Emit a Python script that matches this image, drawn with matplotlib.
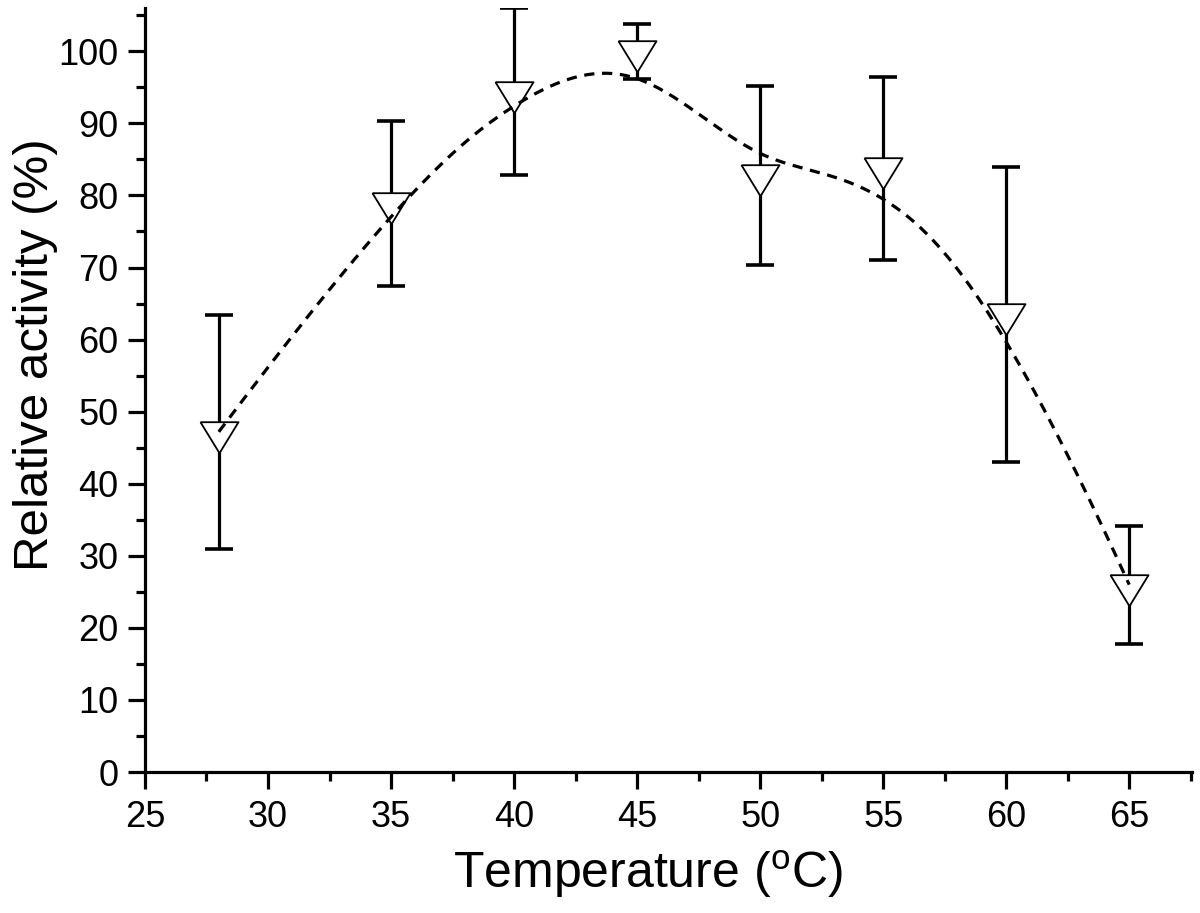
import numpy as np
import matplotlib
matplotlib.use("Agg")
import matplotlib.pyplot as plt

plt.rcParams['font.family'] = ['Liberation Sans', 'DejaVu Sans']
plt.rcParams['mathtext.fontset'] = 'custom'
plt.rcParams['mathtext.rm'] = 'Liberation Sans'

temperature = [28, 35, 40, 45, 50, 55, 60, 65]
activity = [47.2, 78.9, 94.4, 100.0, 82.8, 83.8, 63.5, 26.0]
error = [16.2, 11.4, 11.6, 3.8, 12.4, 12.7, 20.5, 8.2]
x_ticks = [25, 30, 35, 40, 45, 50, 55, 60, 65]
y_ticks = [0, 10, 20, 30, 40, 50, 60, 70, 80, 90, 100]


def bspline(ctrl_x, ctrl_y, degree=3, num=400):
    n = len(ctrl_x)
    inner = n - degree
    knots = np.concatenate([np.zeros(degree), np.arange(inner + 1), np.full(degree, inner)]).astype(float)
    u = np.linspace(0, inner, num)
    u[-1] -= 1e-9
    N = np.zeros((num, len(knots) - 1))
    for i in range(len(knots) - 1):
        N[:, i] = (u >= knots[i]) & (u < knots[i + 1])
    for k in range(1, degree + 1):
        Nn = np.zeros((num, len(knots) - 1 - k))
        for i in range(len(knots) - 1 - k):
            d1 = knots[i + k] - knots[i]
            d2 = knots[i + k + 1] - knots[i + 1]
            a = (u - knots[i]) / d1 * N[:, i] if d1 > 0 else 0
            b = (knots[i + k + 1] - u) / d2 * N[:, i + 1] if d2 > 0 else 0
            Nn[:, i] = a + b
        N = Nn
    return N @ np.asarray(ctrl_x, float), N @ np.asarray(ctrl_y, float)


fig = plt.figure(figsize=(12, 9.13), dpi=100)
ax = fig.add_axes([0.1208, 0.1544, 0.8725, 0.8368])

ax.errorbar(temperature, activity, yerr=error, fmt='none', ecolor='black',
            elinewidth=2.3, capsize=10, capthick=2.6, zorder=2)

tri = [(-19, 10.3), (19, 10.3), (0, -20.7), (-19, 10.3)]
ax.plot(temperature, activity, linestyle='none', marker=tri, markersize=29.8,
        markerfacecolor='white', markeredgecolor='black', markeredgewidth=1.3, zorder=3)

sx, sy = bspline(temperature, activity)
ax.plot(sx, sy, color='black', linewidth=2.3, linestyle=(0, (3.2, 2.4)), zorder=4)

ax.set_xlim(25, 67.55)
ax.set_ylim(0, 106)
ax.set_xticks(x_ticks)
ax.set_yticks(y_ticks)
ax.set_xticks(np.arange(27.5, 68, 5), minor=True)
ax.set_yticks(np.arange(5, 106, 10), minor=True)

for s in ['top', 'right']:
    ax.spines[s].set_visible(False)
for s in ['left', 'bottom']:
    ax.spines[s].set_linewidth(2.3)

ax.tick_params(which='major', direction='out', length=12, width=2.3, labelsize=26)
ax.tick_params(axis='x', which='major', pad=8)
ax.tick_params(axis='y', which='major', pad=7)
ax.tick_params(which='minor', direction='out', length=6.5, width=2.3)

ax.set_xlabel(r'Temperature ($^{\rm o}$C)', fontsize=36)
ax.set_ylabel('Relative activity (%)', fontsize=35.5)
ax.xaxis.set_label_coords(0.48, -0.1)
ax.yaxis.set_label_coords(-0.083, 0.546)

fig.savefig('out.png', dpi=100)
